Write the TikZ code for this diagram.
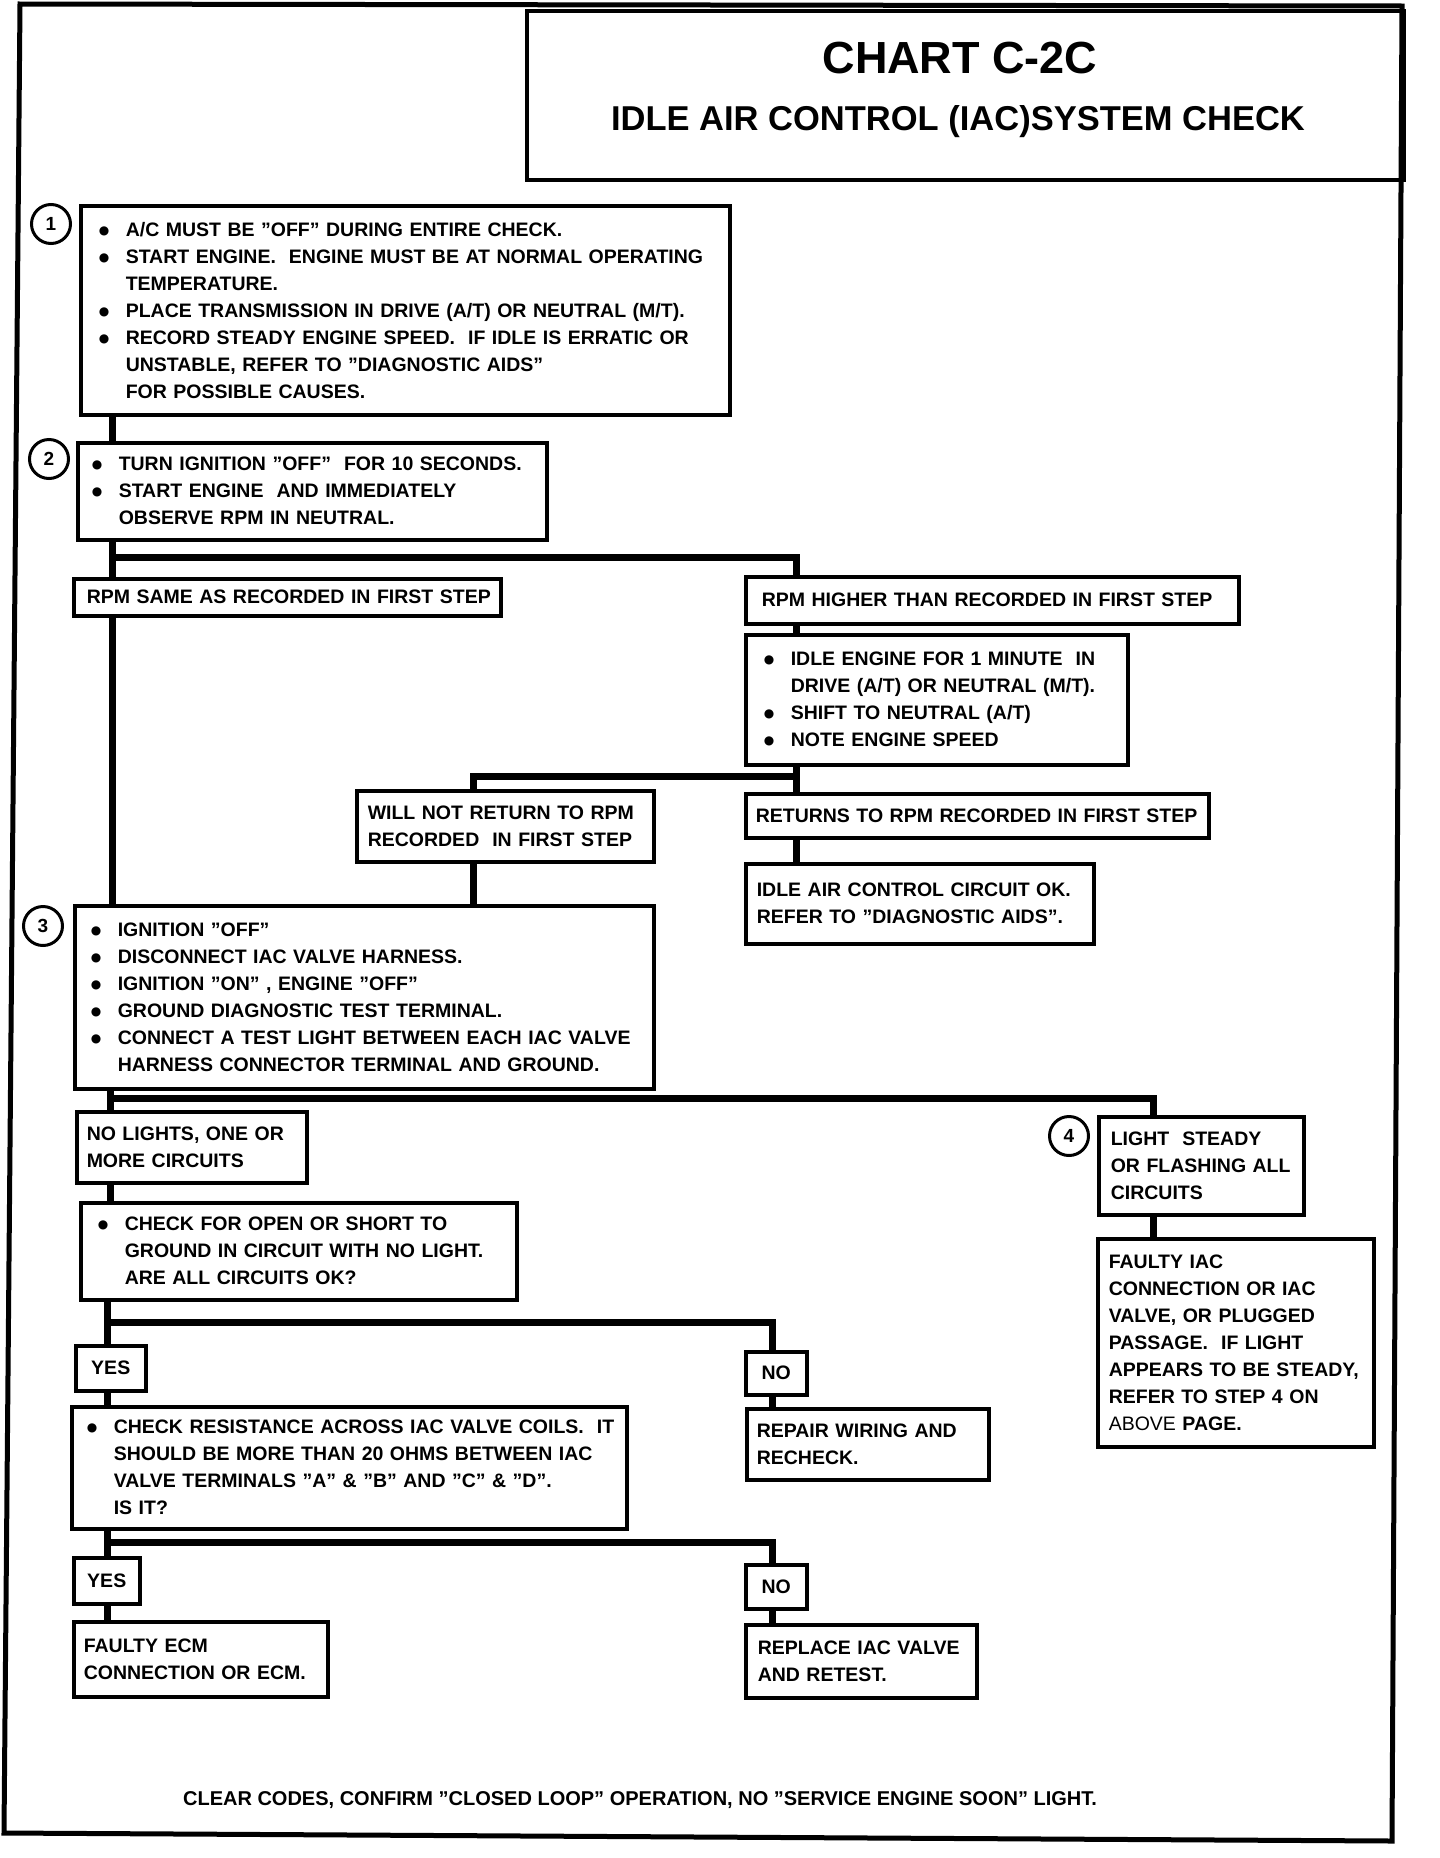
\documentclass[tikz,border=0pt]{standalone}
\usepackage{fontspec}
\setmainfont{Liberation Sans}
\newfontfamily\dotfont{DejaVu Sans}
\usetikzlibrary{positioning, calc}
\newcommand\chartfont{\fontsize{19.5}{27}\selectfont\bfseries}
\newcommand\numfont{\fontsize{19}{19}\selectfont\bfseries}
\newcommand\titlefont{\fontsize{45}{50}\selectfont\bfseries}
\newcommand\subtitlefont{\fontsize{34.5}{40}\selectfont\bfseries}
\newcommand\notefont{\fontsize{20}{24}\selectfont\bfseries}
\newcommand\bul{\makebox[27pt][l]{\raisebox{2pt}{\dotfont\fontsize{12}{12}\selectfont ●}}}
\newcommand\ind{\hspace*{27pt}}
\tikzset{
	frame/.style={line width=5pt, line join=miter},
	titlebox/.style={draw, rectangle, line width=4pt, anchor=north west, minimum width=877pt, minimum height=169pt},
	box/.style={draw, rectangle, line width=3.5pt, anchor=north west, align=left, inner ysep=0pt, font=\chartfont},
	ans/.style={draw, rectangle, line width=3.5pt, anchor=north west, align=center, inner sep=0pt, font=\chartfont},
	stepnum/.style={draw, circle, line width=3pt, minimum size=39pt, inner sep=0pt, font=\numfont},
	link/.style={line width=7pt, line join=miter},
}
\begin{document}
\begin{tikzpicture}[x=1pt, y=-1pt]
			\useasboundingbox (0,0) rectangle (1440,1858);
			\draw[frame] (20,4) -- (1402,6) -- (1392,1841) -- (4,1833) -- cycle;
			
			\node [titlebox] (title) at (525,9) {};
			\node [anchor=base, font=\titlefont] (chart) at (960,73) {CHART C-2C};
			\node [anchor=base, font=\subtitlefont] (chartsub) at (958,130) {IDLE AIR CONTROL (IAC)SYSTEM CHECK};
			
			\node [box, inner xsep=18pt, text width=613pt, minimum height=209pt] (step1) at (79,204) {\bul A/C MUST BE "OFF" DURING ENTIRE CHECK.\\ \bul \mbox{START ENGINE.\ \ ENGINE MUST BE AT NORMAL OPERATING}\\ \ind TEMPERATURE.\\ \bul PLACE TRANSMISSION IN DRIVE (A/T) OR NEUTRAL (M/T).\\ \bul RECORD STEADY ENGINE SPEED.\ \ IF IDLE IS ERRATIC OR\\ \ind UNSTABLE, REFER TO "DIAGNOSTIC AIDS"\\ \ind FOR POSSIBLE CAUSES.};
			\node [box, inner xsep=14pt, text width=441pt, minimum height=97pt] (step2) at (76,441) {\bul TURN IGNITION "OFF"\ \ FOR 10 SECONDS.\\ \bul START ENGINE\ \ AND IMMEDIATELY\\ \ind OBSERVE RPM IN NEUTRAL.};
			\node [box, inner xsep=13pt, text width=401pt, minimum height=37pt] (same) at (72,577) {\mbox{RPM SAME AS RECORDED IN FIRST STEP}};
			\node [box, inner xsep=16pt, text width=461pt, minimum height=47pt] (higher) at (744,575) {\mbox{RPM HIGHER THAN RECORDED IN FIRST STEP}};
			\node [box, inner xsep=18pt, text width=346pt, minimum height=130pt] (idle) at (744,633) {\bul IDLE ENGINE FOR 1 MINUTE\ \ IN\\ \ind DRIVE (A/T) OR NEUTRAL (M/T).\\ \bul SHIFT TO NEUTRAL (A/T)\\ \bul NOTE ENGINE SPEED};
			\node [box, inner xsep=11pt, text width=275pt, minimum height=71pt] (noreturn) at (355,789) {WILL NOT RETURN TO RPM\\ RECORDED\ \ IN FIRST STEP};
			\node [box, inner xsep=10pt, text width=443pt, minimum height=44pt] (returns) at (744,792) {\mbox{RETURNS TO RPM RECORDED IN FIRST STEP}};
			\node [box, inner xsep=11pt, text width=326pt, minimum height=80pt] (iacok) at (744,862) {IDLE AIR CONTROL CIRCUIT OK.\\ REFER TO "DIAGNOSTIC AIDS".};
			\node [box, inner xsep=16pt, text width=547pt, minimum height=183pt] (step3) at (73,904) {\bul IGNITION "OFF"\\ \bul DISCONNECT IAC VALVE HARNESS.\\ \bul IGNITION "ON" , ENGINE "OFF"\\ \bul GROUND DIAGNOSTIC TEST TERMINAL.\\ \bul \mbox{CONNECT A TEST LIGHT BETWEEN EACH IAC VALVE}\\ \ind HARNESS CONNECTOR TERMINAL AND GROUND.};
			\node [box, inner xsep=10pt, text width=210pt, minimum height=71pt] (nolight) at (75,1110) {NO LIGHTS, ONE OR\\ MORE CIRCUITS};
			\node [box, inner xsep=12pt, text width=181pt, minimum height=98pt] (steady) at (1097,1115) {LIGHT\ \ STEADY\\ OR FLASHING ALL\\ CIRCUITS};
			\node [box, inner xsep=17pt, text width=402pt, minimum height=97pt] (opencheck) at (79,1201) {\bul CHECK FOR OPEN OR SHORT TO\\ \ind GROUND IN CIRCUIT WITH NO LIGHT.\\ \ind ARE ALL CIRCUITS OK?};
			\node [box, inner xsep=11pt, text width=254pt, minimum height=208pt] (faultyiac) at (1096,1237) {FAULTY IAC\\ CONNECTION OR IAC\\ VALVE, OR PLUGGED\\ PASSAGE.\ \ IF LIGHT\\ \mbox{APPEARS TO BE STEADY,}\\ REFER TO STEP 4 ON\\ {\mdseries ABOVE} PAGE.};
			\node [ans, minimum width=70pt, minimum height=45pt] (yesA) at (74,1344) {YES};
			\node [ans, minimum width=61pt, minimum height=43pt] (noA) at (744,1350) {NO};
			\node [box, inner xsep=15pt, text width=525pt, minimum height=122pt] (rescheck) at (70,1405) {\bul \mbox{CHECK RESISTANCE ACROSS IAC VALVE COILS.\ \ IT}\\ \ind \mbox{SHOULD BE MORE THAN 20 OHMS BETWEEN IAC}\\ \ind VALVE TERMINALS "A" \& "B" AND "C" \& "D".\\ \ind IS IT?};
			\node [box, inner xsep=10pt, text width=222pt, minimum height=71pt] (repair) at (745,1407) {REPAIR WIRING AND\\ RECHECK.};
			\node [ans, minimum width=66pt, minimum height=46pt] (yesB) at (72,1556) {YES};
			\node [ans, minimum width=61pt, minimum height=44pt] (noB) at (744,1563) {NO};
			\node [box, inner xsep=10pt, text width=234pt, minimum height=75pt] (faultyecm) at (72,1620) {FAULTY ECM\\ CONNECTION OR ECM.};
			\node [box, inner xsep=12pt, text width=207pt, minimum height=73pt] (replace) at (744,1623) {REPLACE IAC VALVE\\ AND RETEST.};
			\node [font=\notefont] (note) at (640,1800) {CLEAR CODES, CONFIRM "CLOSED LOOP" OPERATION, NO "SERVICE ENGINE SOON" LIGHT.};
			
			\node [stepnum] (num1) at (51,224) {1};
			\node [stepnum] (num2) at (49,459) {2};
			\node [stepnum] (num3) at (43,926) {3};
			\node [stepnum] (num4) at (1069,1136) {4};
			
			\coordinate (trunkA) at (112,0);
			\coordinate (trunkB) at (110,0);
			\coordinate (trunkC) at (107,0);
			\coordinate (branchA) at (796,0);
			\coordinate (branchB) at (473,0);
			\coordinate (branchC) at (1153,0);
			\coordinate (branchD) at (772,0);
			\coordinate (splitA) at (0,557);
			\coordinate (splitB) at (0,776);
			\coordinate (splitC) at (0,1098);
			\coordinate (splitD) at (0,1322);
			\coordinate (splitE) at (0,1542);
			
			\draw[link] (trunkA |- step1.south) -- (trunkA |- step2.north);
			\draw[link] (trunkA |- step2.south) -- (trunkA |- same.north);
			\draw[link] (trunkA |- splitA) -| (branchA |- higher.north);
			\draw[link] (trunkA |- same.south) -- (trunkA |- step3.north);
			\draw[link] (branchA |- higher.south) -- (branchA |- idle.north);
			\draw[link] (branchA |- idle.south) -- (branchA |- returns.north);
			\draw[link] (branchA |- splitB) -| (branchB |- noreturn.north);
			\draw[link] (branchA |- returns.south) -- (branchA |- iacok.north);
			\draw[link] (branchB |- noreturn.south) -- (branchB |- step3.north);
			\draw[link] (trunkB |- step3.south) -- (trunkB |- nolight.north);
			\draw[link] (trunkB |- splitC) -| (branchC |- steady.north);
			\draw[link] (branchC |- steady.south) -- (branchC |- faultyiac.north);
			\draw[link] (trunkB |- nolight.south) -- (trunkB |- opencheck.north);
			\draw[link] (trunkC |- opencheck.south) -- (trunkC |- yesA.north);
			\draw[link] (trunkC |- splitD) -| (branchD |- noA.north);
			\draw[link] (trunkC |- yesA.south) -- (trunkC |- rescheck.north);
			\draw[link] (branchD |- noA.south) -- (branchD |- repair.north);
			\draw[link] (trunkC |- rescheck.south) -- (trunkC |- yesB.north);
			\draw[link] (trunkC |- splitE) -| (branchD |- noB.north);
			\draw[link] (trunkC |- yesB.south) -- (trunkC |- faultyecm.north);
			\draw[link] (branchD |- noB.south) -- (branchD |- replace.north);
\end{tikzpicture}
\end{document}
